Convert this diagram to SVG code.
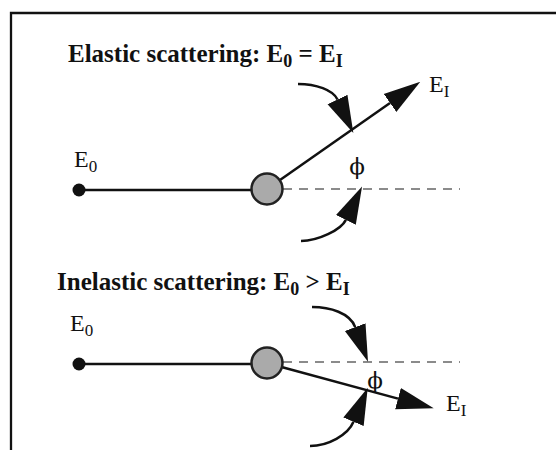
<svg xmlns="http://www.w3.org/2000/svg" width="556" height="450" viewBox="0 0 556 450">
<style>
  .title { font-family: "Liberation Serif", "Times New Roman", serif; font-weight: bold; font-size: 25px; fill: #111; }
  .lbl { font-family: "Liberation Serif", "Times New Roman", serif; font-size: 24px; fill: #111; }
  .phi { font-family: "DejaVu Serif", "Liberation Serif", serif; font-size: 23px; fill: #111; }
  .sub { font-size: 17px; }
  .tsub { font-size: 18px; }
  .ray { stroke: #111; stroke-width: 2.5; fill: none; }
  .curve { stroke: #111; stroke-width: 2.5; fill: none; }
  .dash { stroke: #666; stroke-width: 1.3; stroke-dasharray: 9 7; fill: none; }
  .atom { fill: #aaaaaa; stroke: #222; stroke-width: 2.5; }
  .src { fill: #111; }
</style>
<defs>
  <marker id="ah" markerUnits="userSpaceOnUse" viewBox="0 -12 37 24" markerWidth="37" markerHeight="24" refX="0" refY="0" orient="auto">
    <path d="M0,-11 L37,0 L0,11 z" fill="#111"/>
  </marker>
</defs>
<rect x="0" y="0" width="556" height="450" fill="#ffffff"/>
<path d="M11,451 V13 H557" fill="none" stroke="#111" stroke-width="2.3"/>

<g id="connectors">
  <line class="ray" x1="79" y1="190" x2="252" y2="190"/>
  <line class="dash" x1="283" y1="189" x2="460" y2="189"/>
  <line class="ray" x1="280" y1="180" x2="390" y2="102.9" marker-end="url(#ah)"/>
  <path class="curve" d="M298,84 C316,84 333,90 337.5,99.5" marker-end="url(#ah)"/>
  <path class="curve" d="M301,241 C318,241 341,230 345.9,219.9" marker-end="url(#ah)"/>

  <line class="ray" x1="79" y1="364" x2="252" y2="364"/>
  <line class="dash" x1="283" y1="362" x2="460" y2="362"/>
  <line class="ray" x1="282.4" y1="367.2" x2="398" y2="398.6" marker-end="url(#ah)"/>
  <path class="curve" d="M312,307 C330,307 350,313 355.2,327.1" marker-end="url(#ah)"/>
  <path class="curve" d="M310,446 C328,446 348,435 353.5,421.8" marker-end="url(#ah)"/>
</g>

<g id="elastic-title"><text class="title" x="68" y="62">Elastic scattering: E<tspan class="tsub" dy="5">0</tspan><tspan dy="-5"> = E</tspan><tspan class="tsub" dy="5">I</tspan></text></g>
<g id="elastic-source"><circle class="src" cx="79" cy="190" r="6.5"/><text class="lbl" x="74" y="167">E<tspan class="sub" dy="5">0</tspan></text></g>
<g id="elastic-atom"><circle class="atom" cx="267" cy="189" r="15.5"/></g>
<g id="elastic-out"><text class="lbl" x="429" y="92">E<tspan class="sub" dy="5">I</tspan></text></g>
<g id="elastic-phi"><text class="phi" x="357" y="174" text-anchor="middle">ϕ</text></g>

<g id="inelastic-title"><text class="title" x="57" y="290">Inelastic scattering: E<tspan class="tsub" dy="5">0</tspan><tspan dy="-5"> &gt; E</tspan><tspan class="tsub" dy="5">I</tspan></text></g>
<g id="inelastic-source"><circle class="src" cx="79" cy="364" r="6.5"/><text class="lbl" x="70" y="331">E<tspan class="sub" dy="5">0</tspan></text></g>
<g id="inelastic-atom"><circle class="atom" cx="267" cy="363" r="15.5"/></g>
<g id="inelastic-out"><text class="lbl" x="446" y="411">E<tspan class="sub" dy="5">I</tspan></text></g>
<g id="inelastic-phi"><text class="phi" x="375" y="388" text-anchor="middle">ϕ</text></g>
</svg>
